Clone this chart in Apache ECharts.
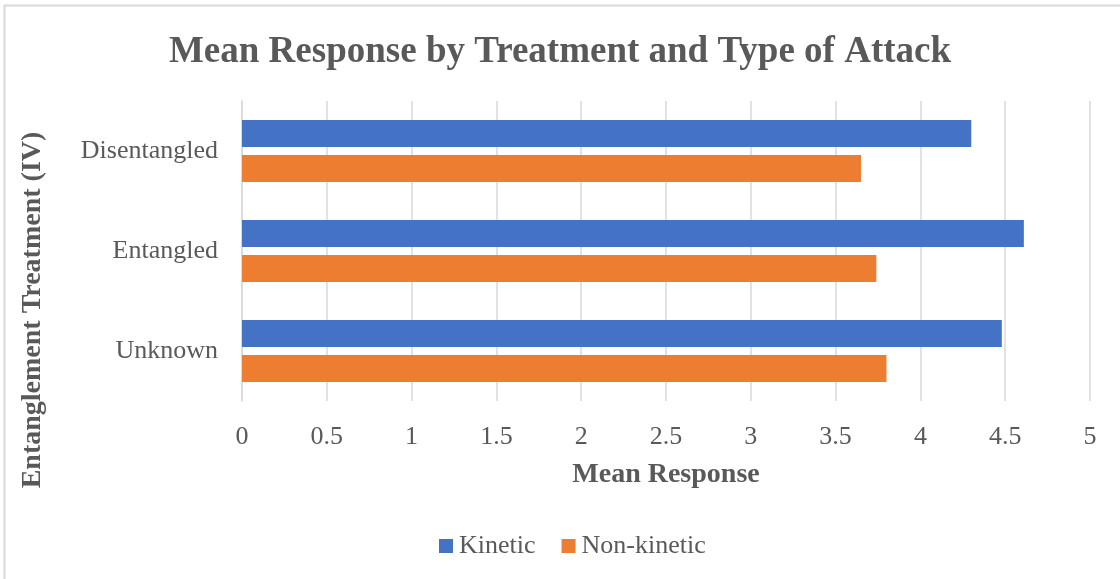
<!DOCTYPE html>
<html>
<head>
<meta charset="utf-8">
<script src="https://cdn.jsdelivr.net/npm/echarts@6/dist/echarts.min.js"></script>
<style>
  html, body { margin: 0; padding: 0; background: #ffffff; }
  #chart { width: 1120px; height: 579px; }
</style>
</head>
<body>
<div id="chart"></div>
<script>
// Treatment groups, top to bottom
const categories = ['Disentangled', 'Entangled', 'Unknown'];
// Mean response per attack type
const kinetic = [4.30, 4.61, 4.48];
const nonKinetic = [3.65, 3.74, 3.80];
const seriesNames = ['Kinetic', 'Non-kinetic'];

const serif = '"Liberation Serif", "Times New Roman", serif';
const textGrey = '#595959';
const lineGrey = '#D9D9D9';

const chart = echarts.init(document.getElementById('chart'));
chart.setOption({
  animation: false,
  backgroundColor: '#ffffff',
  title: {
    text: 'Mean Response by Treatment and Type of Attack',
    left: 'center',
    top: 29,
    textStyle: { fontFamily: serif, fontSize: 37, fontWeight: 'bold', color: textGrey }
  },
  graphic: [
    {
      type: 'polyline',
      shape: { points: [[4.5, 579], [4.5, 5.5], [1120, 5.5]] },
      style: { stroke: lineGrey, lineWidth: 2, fill: null }
    },
    {
      type: 'text',
      x: 33,
      y: 310,
      rotation: Math.PI / 2,
      style: {
        text: 'Entanglement Treatment (IV)',
        fontFamily: serif,
        fontSize: 28,
        fontWeight: 'bold',
        fill: textGrey,
        align: 'center',
        verticalAlign: 'middle'
      }
    }
  ],
  legend: {
    bottom: 15,
    left: 434,
    itemWidth: 14,
    itemHeight: 14,
    itemGap: 26,
    icon: 'rect',
    textStyle: { fontFamily: serif, fontSize: 26, color: textGrey, padding: [0, 0, 0, 1] },
    data: seriesNames
  },
  grid: { left: 242, right: 30, top: 101, bottom: 178, containLabel: false },
  xAxis: {
    type: 'value',
    min: 0,
    max: 5,
    interval: 0.5,
    name: 'Mean Response',
    nameLocation: 'middle',
    nameGap: 60,
    nameTextStyle: { fontFamily: serif, fontSize: 28, fontWeight: 'bold', color: textGrey },
    axisLine: { show: false },
    axisTick: { show: false },
    axisLabel: { fontFamily: serif, fontSize: 26, color: textGrey, margin: 23 },
    splitLine: { show: true, lineStyle: { color: lineGrey, width: 1.5 } }
  },
  yAxis: {
    type: 'category',
    inverse: true,
    data: categories,
    axisLine: { show: true, lineStyle: { color: lineGrey, width: 1.5 } },
    axisTick: { show: false },
    axisLabel: { fontFamily: serif, fontSize: 26, color: textGrey, margin: 24, padding: [8, 0, 0, 0] }
  },
  series: [
    {
      name: seriesNames[0],
      type: 'bar',
      data: kinetic,
      itemStyle: { color: '#4472C4' },
      barGap: '30%',
      barCategoryGap: '38%'
    },
    {
      name: seriesNames[1],
      type: 'bar',
      data: nonKinetic,
      itemStyle: { color: '#ED7D31' },
      barGap: '30%',
      barCategoryGap: '38%'
    }
  ]
});
</script>
</body>
</html>
